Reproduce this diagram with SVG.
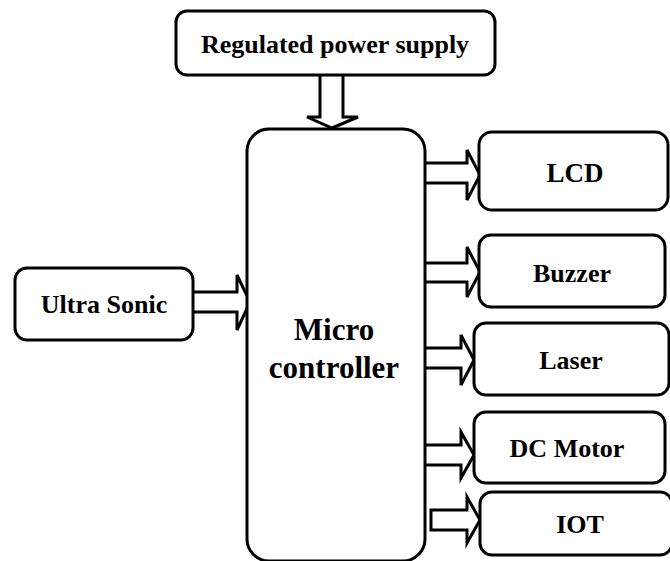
<svg xmlns="http://www.w3.org/2000/svg" width="670" height="561" viewBox="0 0 670 561">
<style>
.box{fill:#fff;stroke:#000;stroke-width:3}
.arr{fill:#fff;stroke:#000;stroke-width:3;stroke-linejoin:miter}
text{font-family:'Liberation Serif','Times New Roman','DejaVu Serif',serif;font-weight:bold;fill:#000;text-anchor:middle}
</style>
<rect width="670" height="561" fill="#fff"/>
<g id="connectors">
<path class="arr" d="M320,75 V117 H307 L332,128 L358,117 H343 V75"/>
<path class="arr" d="M193,292 H237 V275 L250,302 L237,330 V312 H193"/>
<path class="arr" d="M425,163 H467 V150 L480,175 L467,200 V183 H425"/>
<path class="arr" d="M425,263 H467 V247 L480,272 L467,297 V282 H425"/>
<path class="arr" d="M425,348 H461 V335 L474,360 L461,385 V368 H425"/>
<path class="arr" d="M425,445 H461 V432 L474,455 L461,478 V465 H425"/>
<path class="arr" d="M431,510 H467 V497 L480,520 L467,543 V530 H431 Z"/>
</g>
<g id="power">
<rect class="box" x="176" y="11" width="319" height="64" rx="11"/>
<text x="335" y="53" font-size="26">Regulated power supply</text>
</g>
<g id="micro">
<rect class="box" x="247" y="129" width="178" height="432" rx="22"/>
<text x="334" y="340" font-size="31">Micro</text>
<text x="334" y="378" font-size="31">controller</text>
</g>
<g id="ultrasonic">
<rect class="box" x="15" y="268" width="178" height="72" rx="12"/>
<text x="104" y="313" font-size="26">Ultra Sonic</text>
</g>
<g id="lcd">
<rect class="box" x="479" y="132" width="189" height="78" rx="13"/>
<text x="575" y="182" font-size="27">LCD</text>
</g>
<g id="buzzer">
<rect class="box" x="479" y="235" width="186" height="72" rx="12"/>
<text x="572" y="282" font-size="26">Buzzer</text>
</g>
<g id="laser">
<rect class="box" x="474" y="323" width="195" height="72" rx="12"/>
<text x="571" y="369" font-size="26">Laser</text>
</g>
<g id="dcmotor">
<rect class="box" x="474" y="412" width="191" height="71" rx="12"/>
<text x="567" y="457" font-size="26">DC Motor</text>
</g>
<g id="iot">
<rect class="box" x="480" y="492" width="192" height="63" rx="12"/>
<text x="580" y="533" font-size="26">IOT</text>
</g>
</svg>
